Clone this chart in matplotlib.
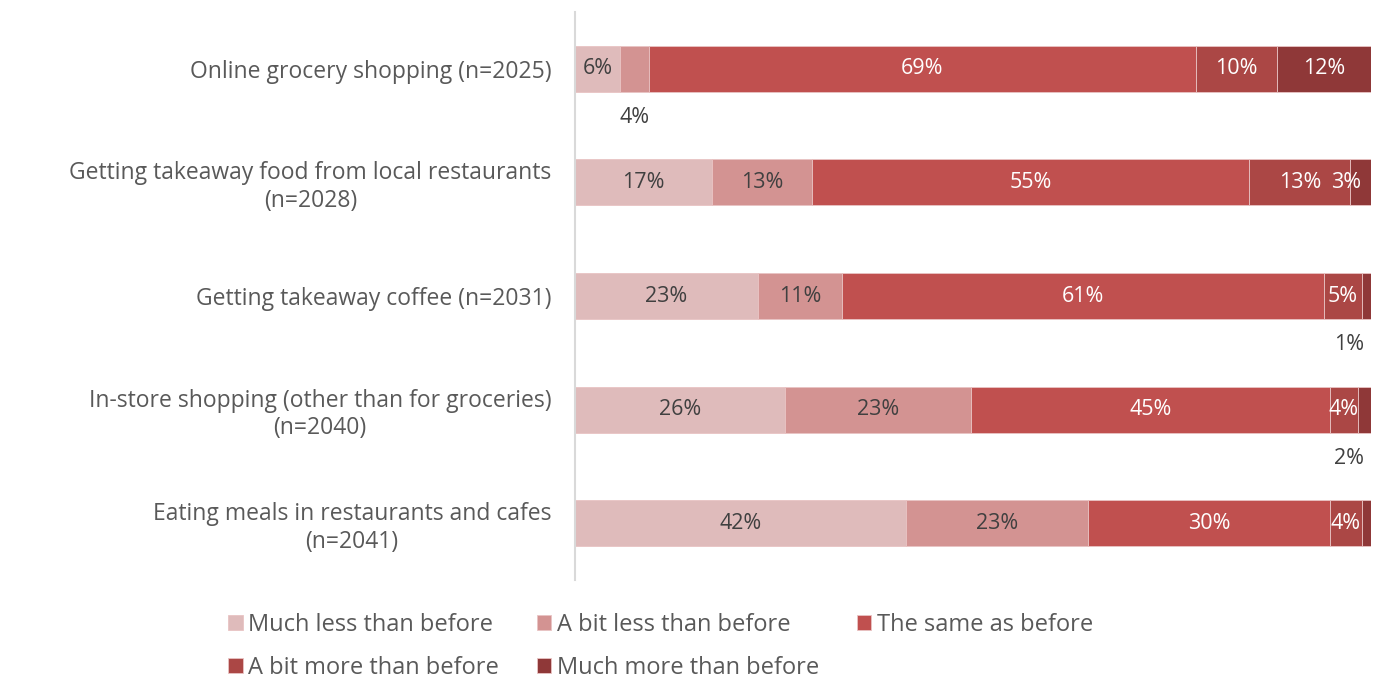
import matplotlib.pyplot as plt
import numpy as np

plt.rcParams['font.family'] = ['Open Sans', 'DejaVu Sans']

# activities (top to bottom)
categories = ['Online grocery shopping (n=2025)',
              'Getting takeaway food from local restaurants\n(n=2028)',
              'Getting takeaway coffee (n=2031)',
              'In-store shopping (other than for groceries)\n(n=2040)',
              'Eating meals in restaurants and cafes\n(n=2041)']
series = ['Much less than before', 'A bit less than before', 'The same as before',
          'A bit more than before', 'Much more than before']
much_less = [5.7, 17.2, 23.0, 26.4, 41.6]
bit_less = [3.6, 12.6, 10.6, 23.4, 22.9]
same = [68.7, 55.0, 60.6, 45.0, 30.3]
bit_more = [10.2, 12.7, 4.8, 3.6, 4.1]
much_more = [11.8, 2.6, 1.1, 1.6, 1.1]
colors = ['#dfbbbb', '#d39392', '#c0504f', '#ab4745', '#8f3838']
text_colors = ['#404040', '#404040', 'white', 'white', 'white']

raw = [much_less, bit_less, same, bit_more, much_more]
data = np.array(raw)
data = data / data.sum(axis=0) * 100

fig = plt.figure(figsize=(13.77, 6.86), dpi=100)
ax = fig.add_axes([0.4176, 0.1545, 0.578, 0.828])

y = np.arange(len(categories))
left = np.zeros(len(categories))
handles = []
for i, name in enumerate(series):
    vals = data[i]
    bars = ax.barh(y, vals, left=left, height=0.405, color=colors[i],
                   edgecolor='#e9c4c4', linewidth=0.6, label=name)
    handles.append(bars)
    for j, v in enumerate(vals):
        cx = left[j] + v / 2
        lab = f'{round(raw[i][j])}%'
        if i == 4 and j == 4:
            # hidden behind the 4% label in the original
            pass
        elif (v < 4.5 and i < 2) or v < 2.0:
            # small segment: label below the bar
            ax.text(min(cx, 97.2), y[j] + 0.43, lab, ha='center', va='center',
                    fontsize=15.5, color='#404040')
        elif v < 3.0:
            ax.text(cx - 1.8, y[j], lab, ha='center', va='center',
                    fontsize=15.5, color=text_colors[i])
        else:
            ax.text(cx, y[j], lab, ha='center', va='center',
                    fontsize=15.5, color=text_colors[i])
    left += vals

ax.set_xlim(0, 100)
ax.set_ylim(4.5, -0.5)
ax.set_yticks(y)
ax.set_yticklabels(categories, fontsize=16.5, color='#595959', multialignment='center')
ax.tick_params(axis='y', length=0, pad=17)
ax.set_xticks([])
for s in ['top', 'right', 'bottom']:
    ax.spines[s].set_visible(False)
ax.spines['left'].set_color('#d9d9d9')
ax.spines['left'].set_linewidth(1.5)

order = [0, 3, 1, 4, 2]
fig.legend([handles[k] for k in order], [series[k] for k in order],
           loc='lower center', bbox_to_anchor=(0.48, -0.022), ncol=3,
           frameon=False, fontsize=17, labelcolor='#595959',
           handlelength=0.6, handleheight=0.6, handletextpad=0.25,
           columnspacing=1.6, labelspacing=0.8)

plt.savefig('out.png', dpi=100)
